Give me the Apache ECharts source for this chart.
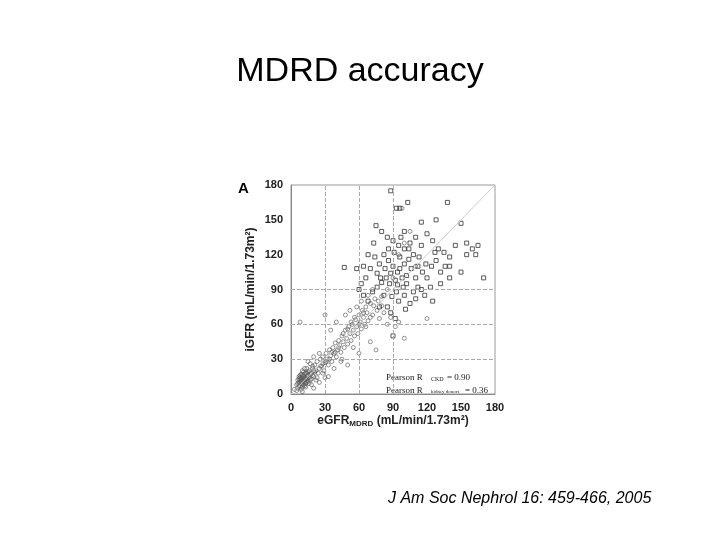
<!DOCTYPE html><html><head><meta charset="utf-8"><script src="https://cdn.jsdelivr.net/npm/echarts@6/dist/echarts.min.js"></script>
<style>body{margin:0;background:#fff}#c{width:720px;height:540px}</style></head><body><div id="c"></div><script>
const xTicks=[0,30,60,90,120,150,180];
const yTicks=[0,30,60,90,120,150,180];
const refLinesX=[30,60,90];
const refLinesY=[30,60,90];
const ckdPoints=[[5,8],[6,12],[7,10],[8,14],[9,9],[10,12],[11,15],[12,10],[13,18],[8,6],[10,20],[14,13],[15,16],[16,20],[12,22],[9,17],[7,15],[11,8],[13,6],[6,5],[17,12],[18,18],[19,22],[20,15],[21,25],[22,20],[23,28],[24,18],[25,22],[26,30],[27,24],[28,32],[29,20],[30,27],[31,35],[32,30],[33,25],[34,38],[35,33],[36,28],[37,40],[38,35],[39,44],[40,32],[41,38],[42,46],[43,42],[44,36],[45,50],[46,45],[47,40],[48,55],[49,48],[50,43],[51,58],[52,52],[53,46],[54,60],[55,55],[56,50],[57,64],[58,58],[59,52],[60,68],[61,62],[62,56],[63,72],[64,66],[65,60],[66,75],[67,70],[68,63],[70,78],[72,68],[74,82],[76,72],[78,65],[80,76],[82,70],[85,60],[88,66],[92,58],[95,62],[100,48],[30,68],[8,62],[35,55],[45,30],[50,25],[40,62],[55,40],[60,35],[70,45],[75,38],[25,35],[20,32],[15,28],[18,8],[22,12],[28,18],[33,15],[38,22],[44,28],[58,75],[62,80],[68,85],[72,90],[48,68],[52,72],[20,5],[25,10],[30,14],[5,3],[3,4],[10,2],[85,90],[90,100],[95,120],[100,130],[110,110],[105,140],[98,160],[120,65],[9,11],[11,13],[10,9],[12,14],[14,10],[8,10],[7,13],[13,12],[15,11],[16,14],[12,7],[9,4],[14,22],[17,26],[19,16],[21,19],[23,14],[26,24],[28,26],[31,28],[34,30],[36,36],[39,36],[42,40],[46,52],[50,56],[53,62],[56,66],[60,60],[64,70],[66,58],[70,66],[73,76],[77,80],[80,84],[6,9],[7,7],[8,12],[9,14],[10,16],[11,11],[12,17],[13,9],[14,15],[15,19],[16,9],[17,17],[18,13],[19,24],[20,20],[8,16],[10,6],[12,13],[14,18],[11,19]];
const donorPoints=[[75,145],[88,175],[93,160],[96,160],[100,140],[103,165],[138,165],[128,150],[150,147],[115,148],[80,140],[85,135],[90,132],[95,128],[100,125],[105,130],[110,135],[115,128],[120,138],[125,132],[130,125],[135,122],[140,118],[145,128],[155,120],[160,125],[165,128],[170,100],[150,105],[140,100],[132,95],[125,80],[118,85],[112,92],[108,88],[102,95],[98,100],[94,105],[90,110],[86,115],[82,120],[78,112],[74,118],[70,108],[66,100],[62,95],[60,90],[64,85],[68,80],[72,88],[76,92],[80,96],[84,100],[88,104],[92,98],[96,108],[100,112],[104,116],[108,120],[112,110],[116,105],[120,100],[124,110],[128,115],[132,105],[136,110],[85,75],[88,70],[92,65],[95,80],[100,85],[105,78],[110,82],[115,90],[78,75],[82,85],[90,50],[73,130],[96,118],[102,102],[106,108],[110,100],[87,95],[93,88],[99,92],[83,108],[79,100],[91,122],[97,135],[113,118],[119,112],[127,122],[123,92],[140,110],[155,130],[163,120],[68,120],[64,110],[58,108],[47,109],[86,125],[104,125],[94,94],[76,104],[89,84],[101,73]];
const chart=echarts.init(document.getElementById('c'));
const axisLabel={color:'#222',fontFamily:'Liberation Sans',fontWeight:'bold',fontSize:11};
chart.setOption({
 animation:false,
 title:[{text:'MDRD accuracy',left:'center',top:50,textStyle:{fontFamily:'Liberation Sans',fontSize:34,fontWeight:'normal',color:'#000'}},
  {text:'A',left:233,top:176,textStyle:{fontFamily:'Liberation Sans',fontSize:15,fontWeight:'bold',color:'#000'}},
  {text:'J Am Soc Nephrol 16: 459-466, 2005',left:383,top:486,textStyle:{fontFamily:'Liberation Sans',fontSize:16,fontStyle:'italic',fontWeight:'normal',color:'#000'}}],
 grid:{left:291,right:225,top:185,bottom:146,show:true,borderColor:'#999',borderWidth:1},
 xAxis:{type:'value',min:0,max:180,interval:30,name:'eGFR{s|MDRD} (mL/min/1.73m²)',nameLocation:'middle',nameGap:20,
  nameTextStyle:{fontFamily:'Liberation Sans',fontWeight:'bold',fontSize:12,color:'#222',rich:{s:{fontSize:8,fontWeight:'bold',verticalAlign:'bottom',padding:[6,0,0,0]}}},
  axisLine:{lineStyle:{color:'#888'}},axisTick:{show:false},axisLabel:axisLabel,splitLine:{show:false}},
 yAxis:{type:'value',min:0,max:180,interval:30,name:'iGFR (mL/min/1.73m²)',nameLocation:'middle',nameGap:34,
  nameTextStyle:{fontFamily:'Liberation Sans',fontWeight:'bold',fontSize:12,color:'#222'},
  axisLine:{show:true,lineStyle:{color:'#888'}},axisTick:{show:false},axisLabel:axisLabel,splitLine:{show:false}},
 series:[
  {type:'line',data:[[0,0],[180,180]],symbol:'none',lineStyle:{color:'#ccc',width:1},silent:true,
   markLine:{silent:true,symbol:'none',label:{show:false},lineStyle:{type:'dashed',color:'#aaa',width:1},
    data:refLinesX.map(v=>({xAxis:v})).concat(refLinesY.map(v=>({yAxis:v})))}},
  {type:'scatter',data:ckdPoints,symbol:'circle',symbolSize:4,itemStyle:{color:'rgba(0,0,0,0)',borderColor:'#555',borderWidth:0.8}},
  {type:'scatter',data:donorPoints,symbol:'rect',symbolSize:4,itemStyle:{color:'rgba(0,0,0,0)',borderColor:'#333',borderWidth:1}}
 ],
 graphic:[{type:'text',left:386,top:373,style:{text:'Pearson R',fill:'#222',font:'9px Liberation Serif'}},
  {type:'text',left:431,top:376,style:{text:'CKD',fill:'#222',font:'6px Liberation Serif'}},
  {type:'text',left:447,top:373,style:{text:'= 0.90',fill:'#222',font:'9px Liberation Serif'}},
  {type:'text',left:386,top:386,style:{text:'Pearson R',fill:'#222',font:'9px Liberation Serif'}},
  {type:'text',left:431,top:389,style:{text:'kidney donors',fill:'#222',font:'5px Liberation Serif'}},
  {type:'text',left:465,top:386,style:{text:'= 0.36',fill:'#222',font:'9px Liberation Serif'}}]
});
</script></body></html>
